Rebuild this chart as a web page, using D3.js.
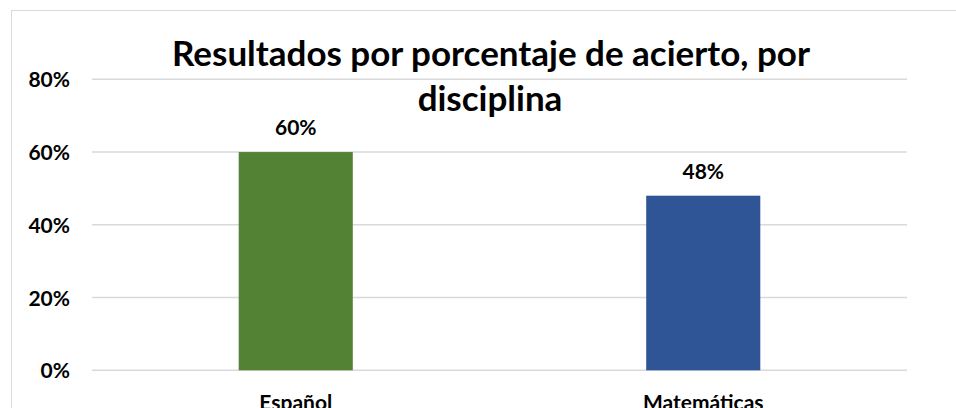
<!DOCTYPE html>
<html>
<head>
<meta charset="utf-8">
<script src="https://cdn.jsdelivr.net/npm/d3@7"></script>
<style>
  html, body { margin: 0; padding: 0; background: #fff; overflow: hidden; }
  svg { display: block; }
  text { font-family: Lato, "Open Sans", "DejaVu Sans", sans-serif; font-weight: bold; fill: #000; }
</style>
</head>
<body>
<script>
const categories = ["Español", "Matemáticas"];
const values = [0.60, 0.48];
const colors = ["#548235", "#2F5597"];
const tickValues = [0, 0.2, 0.4, 0.6, 0.8];
const titleLines = ["Resultados por porcentaje de acierto, por", "disciplina"];

const W = 956, H = 408;
const svg = d3.select("body").append("svg").attr("width", W).attr("height", H);

// chart border (only left and top visible)
svg.append("rect").attr("x", 11.5).attr("y", 10.5).attr("width", 960).attr("height", 420)
  .attr("fill", "none").attr("stroke", "#d9d9d9").attr("stroke-width", 1);

const plot = { left: 92, right: 907, top: 79.3, bottom: 370.3 };

const x = d3.scaleBand().domain(categories).range([plot.left, plot.right]).padding(0);
const y = d3.scaleLinear().domain([0, 0.8]).range([plot.bottom, plot.top]);
const barW = x.bandwidth() * 0.28;

function fitWidth(sel, target) {
  const w = sel.node().getComputedTextLength();
  const fs = parseFloat(sel.attr("font-size"));
  sel.attr("font-size", fs * target / w);
}

// gridlines
svg.append("g").selectAll("line").data(tickValues).join("line")
  .attr("x1", plot.left).attr("x2", plot.right)
  .attr("y1", d => y(d)).attr("y2", d => y(d))
  .attr("stroke", "#d9d9d9").attr("stroke-width", 1.5);

// y axis labels
const yAxis = d3.axisLeft(y).tickValues(tickValues).tickFormat(d3.format(".0%")).tickSize(0).tickPadding(0);
const ya = svg.append("g").attr("transform", "translate(70,0)").call(yAxis);
ya.select(".domain").remove();
ya.selectAll("text").attr("font-size", 21).attr("dy", "0.36em")
  .style("font-family", "Lato, 'Open Sans', sans-serif").style("font-weight", "bold").attr("fill", "#000");

// bars
svg.append("g").selectAll("rect").data(categories).join("rect")
  .attr("x", d => x(d) + x.bandwidth() / 2 - barW / 2)
  .attr("width", barW)
  .attr("y", (d, i) => y(values[i]))
  .attr("height", (d, i) => y(0) - y(values[i]))
  .attr("fill", (d, i) => colors[i]);

// data labels
svg.append("g").selectAll("text").data(categories).join("text")
  .attr("x", d => x(d) + x.bandwidth() / 2)
  .attr("y", (d, i) => y(values[i]) - 17)
  .attr("text-anchor", "middle").attr("font-size", 21)
  .text((d, i) => d3.format(".0%")(values[i]));

// x axis labels
const xAxis = d3.axisBottom(x).tickSize(0).tickPadding(0);
const xa = svg.append("g").attr("transform", "translate(0,410)").call(xAxis);
xa.select(".domain").remove();
xa.selectAll("text").attr("font-size", 21).attr("dy", 0)
  .style("font-family", "Lato, 'Open Sans', sans-serif").style("font-weight", "bold").attr("fill", "#000");

// title
const t1 = svg.append("text").attr("x", 491).attr("y", 66).attr("text-anchor", "middle")
  .attr("font-size", 32).text(titleLines[0]);
fitWidth(t1, 638);
const t2 = svg.append("text").attr("x", 490).attr("y", 110.5).attr("text-anchor", "middle")
  .attr("font-size", t1.attr("font-size")).text(titleLines[1]);
</script>
</body>
</html>
